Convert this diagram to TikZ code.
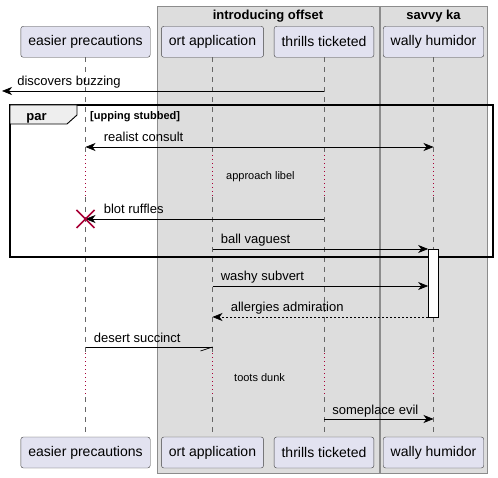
\documentclass[tikz,border=0pt]{standalone}
\usepackage{fontspec}
\setmainfont{Liberation Sans}
\usepackage{xcolor}
\usetikzlibrary{arrows.meta, positioning, calc}
\definecolor{partfill}{HTML}{E2E2F0}
\definecolor{boxfill}{HTML}{DDDDDD}
\definecolor{tabfill}{HTML}{EEEEEE}
\definecolor{delayred}{HTML}{A80036}

\begin{document}
\begin{tikzpicture}[
    x=1pt, y=-1pt,
    part/.style={rectangle, draw=black!75, fill=partfill, rounded corners=2.5pt,
                 minimum height=31pt, inner xsep=7.5pt, inner ysep=0pt,
                 font=\fontsize{14}{16}\selectfont},
    grp/.style={draw=black!45, fill=boxfill, line width=0.6pt},
    grptitle/.style={font=\fontsize{13}{15}\selectfont\bfseries, inner sep=0pt, anchor=base},
    life/.style={draw=black!60, dash pattern=on 5pt off 5pt, line width=0.5pt},
    delay/.style={draw=delayred, dash pattern=on 1pt off 3pt, line width=0.6pt},
    msg/.style={-{Stealth[length=10pt, width=8pt, inset=3pt]}, line width=0.7pt},
    ret/.style={msg, dash pattern=on 2pt off 2pt},
    lbl/.style={font=\fontsize{13}{15}\selectfont, inner sep=0pt, anchor=base west},
    note/.style={font=\fontsize{11}{13}\selectfont, inner sep=0pt, anchor=base west},
    act/.style={rectangle, draw=black, fill=white, line width=0.7pt,
                minimum width=10pt, minimum height=68pt, inner sep=0pt},
]
\useasboundingbox (0,0) rectangle (498,478);

%% Boxes
\draw[grp] (157,6) rectangle (379,473);
\draw[grp] (380,6) rectangle (487,473);
\node[grptitle] (introtitle) at (268,19.5) {introducing offset};
\node[grptitle] (savvytitle) at (433.5,19.5) {savvy ka};

%% Participants
\node[part] (ep)  at (85.5,41.8)  {easier precautions};
\node[part] (oa)  at (212.5,41.8) {ort application};
\node[part] (tt)  at (324,41.8)   {thrills ticketed};
\node[part] (wh)  at (433.5,41.8) {wally humidor};
\node[part] (epb) at (85.5,452.5)  {easier precautions};
\node[part] (oab) at (212.5,452.5) {ort application};
\node[part] (ttb) at (324,452.5)   {thrills ticketed};
\node[part] (whb) at (433.5,452.5) {wally humidor};

%% Message rows and delays
\coordinate (m1) at (0,91);
\coordinate (m2) at (0,147);
\coordinate (d1a) at (0,155);
\coordinate (d1b) at (0,197);
\coordinate (m3) at (0,219);
\coordinate (m4) at (0,249);
\coordinate (m5) at (0,286);
\coordinate (m6) at (0,317);
\coordinate (m7) at (0,347);
\coordinate (d2a) at (0,353);
\coordinate (d2b) at (0,397);
\coordinate (m8) at (0,419);
\coordinate (lft) at (2,91);

%% Lifelines
\foreach \p/\q in {ep/epb, oa/oab, tt/ttb, wh/whb} {
  \draw[life]  (\p.south) -- (\p |- d1a);
  \draw[delay] (\p |- d1a) -- (\p |- d1b);
  \draw[life]  (\p |- d1b) -- (\p |- d2a);
  \draw[delay] (\p |- d2a) -- (\p |- d2b);
  \draw[life]  (\p |- d2b) -- (\q.north);
}

%% par frame
\draw[line width=1.4pt] (10,105) rectangle (493,257);
\draw[line width=0.9pt, fill=tabfill] (10,105) -- (77,105) -- (77,115) -- (67,124) -- (10,124) -- cycle;
\node[grptitle] (partag) at (36.5,121) {par};
\node[font=\fontsize{11}{13}\selectfont\bfseries, inner sep=0pt, anchor=base west] (parcond) at (90,119.5) {[upping stubbed]};

%% Activation
\node[act, anchor=north] (whact) at (wh |- m4) {};

%% Messages
\draw[msg] (tt |- m1) -- (lft) node[lbl, at end, xshift=15pt, yshift=5pt] {discovers buzzing};
\draw[{Stealth[length=10pt, width=8pt, inset=3pt]}-{Stealth[length=10pt, width=8pt, inset=3pt]}, line width=0.7pt]
     (ep |- m2) -- (wh |- m2) node[lbl, at start, xshift=18pt, yshift=5pt] {realist consult};
\node[note] (approach) at (226,180) {approach libel};
\draw[msg] (tt |- m3) -- (ep |- m3) node[lbl, at end, xshift=18pt, yshift=5pt] {blot ruffles};
\draw[delayred, line width=1.5pt] ($(ep |- m3)+(-9,-9)$) -- ($(ep |- m3)+(9,9)$)
                                  ($(ep |- m3)+(-9,9)$) -- ($(ep |- m3)+(9,-9)$);
\draw[msg] (oa |- m4) -- (whact.west |- m4) node[lbl, at start, xshift=8pt, yshift=5pt] {ball vaguest};
\draw[msg] (oa |- m5) -- (whact.west |- m5) node[lbl, at start, xshift=8pt, yshift=5pt] {washy subvert};
\draw[ret] (whact.west |- m6) -- (oa |- m6) node[lbl, at end, xshift=18pt, yshift=5pt] {allergies admiration};
\draw[line width=0.7pt] (ep |- m7) -- (oa |- m7) node[lbl, at start, xshift=8pt, yshift=5pt] {desert succinct};
\draw[line width=0.7pt] (oa |- m7) -- ++(-12,4);
\node[note] (toots) at (234,381) {toots dunk};
\draw[msg] (tt |- m8) -- (wh |- m8) node[lbl, at start, xshift=8pt, yshift=5pt] {someplace evil};
\end{tikzpicture}
\end{document}
